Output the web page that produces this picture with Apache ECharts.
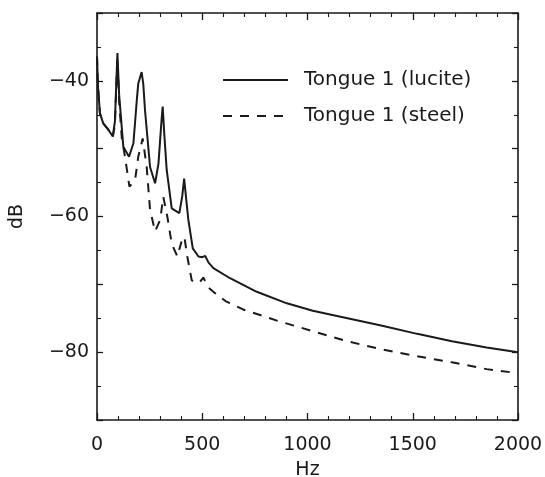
<!DOCTYPE html>
<html>
<head>
<meta charset="utf-8">
<script src="https://cdn.jsdelivr.net/npm/echarts@6/dist/echarts.min.js"></script>
<style>
html,body{margin:0;padding:0;background:#fff;}
#chart{width:545px;height:477px;}
</style>
</head>
<body>
<div id="chart"></div>
<script>
const seriesNames = ['Tongue 1 (lucite)', 'Tongue 1 (steel)'];
const xTicks = [0, 500, 1000, 1500, 2000];
const yTicks = [-80, -60, -40];

const luciteHz = [0, 5, 14, 30, 54, 75, 85, 97, 105, 125, 152, 173, 190, 196, 212, 220, 228, 252, 276, 292, 305, 312, 320, 331, 355, 391, 405, 414, 424, 434, 455, 482, 500, 514, 530, 553, 632, 759, 902, 1025, 1190, 1355, 1521, 1686, 1851, 2000];
const luciteDb = [-36.4, -41, -44.8, -46.3, -47.2, -48.2, -46, -35.9, -42, -49.7, -51.2, -49.2, -42.5, -40.4, -38.7, -40.5, -44.3, -52.7, -55.1, -52.2, -46.5, -43.8, -48, -53.1, -58.8, -59.5, -57, -54.4, -57.5, -60.5, -64.7, -65.9, -66, -65.8, -66.8, -67.6, -69.1, -71.1, -72.8, -73.9, -75.0, -76.1, -77.3, -78.4, -79.3, -80.0];

const steelHz = [0, 5, 14, 30, 54, 75, 85, 97, 105, 118, 133, 154, 181, 196, 217, 236, 252, 276, 300, 315, 334, 355, 382, 403, 415, 429, 450, 470, 490, 505, 513, 530, 561, 612, 694, 860, 1025, 1190, 1355, 1521, 1686, 1851, 2000];
const steelDb = [-36.4, -41, -44.8, -46.3, -47.2, -48.3, -46.5, -36.5, -43, -48.5, -51.2, -55.6, -54.6, -51.2, -48.5, -52.7, -59, -62.2, -60.5, -57.1, -60, -64, -65.9, -63.5, -63, -65.9, -69.4, -69.8, -69.6, -69, -68.9, -70.5, -71.3, -72.5, -73.7, -75.4, -76.9, -78.4, -79.6, -80.6, -81.5, -82.5, -83.1];

const pairs = (xs, ys) => xs.map((x, i) => [x, ys[i]]);
const FONT = 'DejaVu Sans';
const INK = '#1a1a1a';

const chart = echarts.init(document.getElementById('chart'), null, {renderer: 'canvas'});

const axisLine = {show: true, onZero: false, lineStyle: {color: INK, width: 1.6}};
const tick = {show: true, inside: true, length: 7, lineStyle: {color: INK, width: 1.3}};
const minor = {show: true, splitNumber: 5, length: 4, lineStyle: {color: INK, width: 1.1}};

chart.setOption({
  animation: false,
  backgroundColor: '#fff',
  grid: {left: 97, top: 13, width: 421, height: 407, containLabel: false, outerBoundsMode: 'none'},
  legend: {
    orient: 'vertical',
    left: 217, top: 65,
    itemWidth: 65, itemHeight: 14, itemGap: 16,
    data: seriesNames,
    itemStyle: {opacity: 0},
    textStyle: {fontFamily: FONT, fontSize: 20, color: INK, padding: [0, 0, 0, 11]}
  },
  xAxis: [{
    type: 'value', min: 0, max: 2000, interval: 500,
    name: 'Hz', nameLocation: 'middle', nameGap: 41,
    nameTextStyle: {fontFamily: FONT, fontSize: 19, color: INK},
    axisLine: axisLine, axisTick: tick, minorTick: minor,
    splitLine: {show: false},
    axisLabel: {fontFamily: FONT, fontSize: 19, color: INK, margin: 16,
      formatter: v => xTicks.includes(v) ? String(v) : ''}
  }, {
    type: 'value', position: 'top', min: 0, max: 2000, interval: 500,
    axisLine: axisLine, axisTick: tick, minorTick: minor,
    splitLine: {show: false}, axisLabel: {show: false}
  }],
  yAxis: [{
    type: 'value', min: -90, max: -30, interval: 10,
    name: 'dB', nameLocation: 'middle', nameGap: 70,
    nameTextStyle: {fontFamily: FONT, fontSize: 19, color: INK},
    axisLine: axisLine, axisTick: Object.assign({}, tick, {length: 6}),
    minorTick: Object.assign({}, minor, {splitNumber: 2}),
    splitLine: {show: false},
    axisLabel: {fontFamily: FONT, fontSize: 19, color: INK, margin: 8,
      formatter: v => yTicks.includes(v) ? '\u2212' + Math.abs(v) : ''}
  }, {
    type: 'value', position: 'right', min: -90, max: -30, interval: 10,
    axisLine: axisLine, axisTick: Object.assign({}, tick, {length: 6}),
    minorTick: Object.assign({}, minor, {splitNumber: 2}),
    splitLine: {show: false}, axisLabel: {show: false}
  }],
  series: [{
    name: seriesNames[0], type: 'line', symbol: 'none',
    data: pairs(luciteHz, luciteDb),
    lineStyle: {color: INK, width: 2}, itemStyle: {color: INK}
  }, {
    name: seriesNames[1], type: 'line', symbol: 'none',
    data: pairs(steelHz, steelDb),
    lineStyle: {color: INK, width: 2, type: [9, 8]}, itemStyle: {color: INK}
  }]
});
</script>
</body>
</html>
